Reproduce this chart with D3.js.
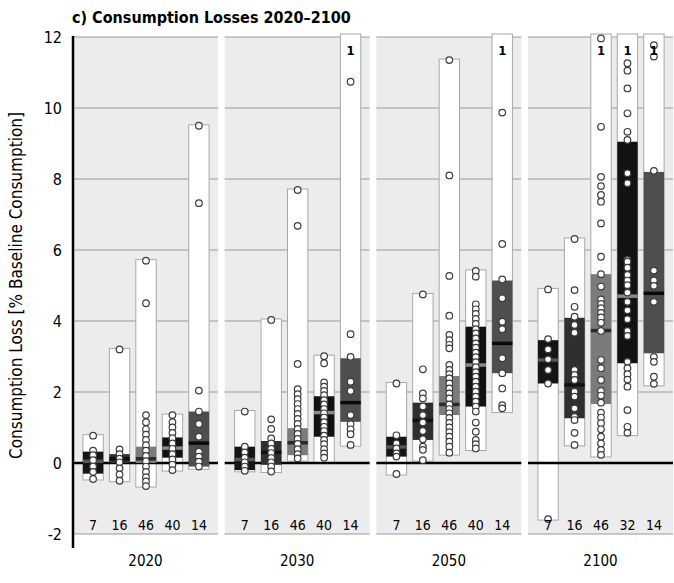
<!DOCTYPE html>
<html>
<head>
<meta charset="utf-8">
<script src="https://cdnjs.cloudflare.com/ajax/libs/d3/7.8.5/d3.min.js"></script>
<style>
    body { margin: 0; background: #fff; }
    svg { display: block; font-family: "Liberation Sans Narrow", "DejaVu Sans Condensed", "Open Sans", sans-serif; }
</style>
</head>
<body>
<svg id="chart" width="674" height="583"></svg>
<script>
// years and number of models per category
var years = ["2020", "2030", "2050", "2100"];
var counts = [
    [7, 16, 46, 40, 14],
    [7, 16, 46, 40, 14],
    [7, 16, 46, 40, 14],
    [7, 16, 46, 32, 14]
];
var yTicks = [-2, 0, 2, 4, 6, 8, 10, 12];

// box statistics, one row per year, one value per category
var mins = [
    [-0.45, -0.5, -0.65, -0.2, -0.15],
    [-0.22, -0.24, 0.08, 0.02, 0.5],
    [-0.31, 0.08, 0.25, 0.38, 1.45],
    [-1.58, 0.51, 0.2, 0.8, 2.2]
];
var q1s = [
    [-0.3, 0.0, 0.0, 0.15, -0.1],
    [-0.2, -0.05, 0.22, 0.74, 1.16],
    [0.18, 0.65, 1.35, 1.59, 2.53],
    [2.24, 1.26, 1.66, 2.81, 3.09]
];
var medians = [
    [0.05, 0.12, 0.12, 0.42, 0.56],
    [0.1, 0.3, 0.57, 1.42, 1.7],
    [0.45, 1.2, 1.65, 2.76, 3.37],
    [2.9, 2.2, 3.73, 4.7, 4.78]
];
var q3s = [
    [0.32, 0.25, 0.46, 0.72, 1.45],
    [0.46, 0.62, 0.98, 1.88, 2.95],
    [0.74, 1.7, 2.45, 3.84, 5.14],
    [3.46, 4.09, 5.32, 9.05, 8.2]
];
var maxs = [
    [0.77, 3.2, 5.7, 1.35, 9.5],
    [1.45, 4.03, 7.69, 3.01, 12],
    [2.24, 4.75, 11.35, 5.41, 12],
    [4.89, 6.31, 12, 12, 12]
];
// models beyond the top of the axis
var above = [
    [0, 0, 0, 0, 0],
    [0, 0, 0, 0, 1],
    [0, 0, 0, 0, 1],
    [0, 0, 1, 1, 1]
];
// single model results
var points = [
    [
        [0.77, 0.35, 0.22, 0.08, -0.1, -0.25, -0.45],
        [3.2, 0.38, 0.25, 0.12, 0.02, -0.15, -0.32, -0.5],
        [5.7, 4.5, 1.35, 1.15, 0.95, 0.8, 0.65, 0.5, 0.35, 0.2, 0.05, -0.1, -0.25, -0.4, -0.52, -0.65],
        [1.35, 1.15, 1.0, 0.85, 0.7, 0.55, 0.4, 0.25, 0.1, -0.05, -0.2],
        [9.5, 7.32, 2.04, 1.45, 1.1, 0.74, 0.32, 0.18, 0.04, -0.1]
    ],
    [
        [1.45, 0.46, 0.3, 0.15, 0.02, -0.1, -0.22],
        [4.03, 1.23, 0.96, 0.69, 0.55, 0.4, 0.28, 0.14, 0.02, -0.1, -0.24],
        [7.69, 6.68, 2.79, 2.08, 1.94, 1.8, 1.66, 1.52, 1.38, 1.24, 1.1, 0.96, 0.82, 0.68, 0.54, 0.39, 0.25, 0.13],
        [3.01, 2.81, 2.27, 2.15, 2.03, 1.91, 1.77, 1.65, 1.52, 1.4, 1.28, 1.15, 1.02, 0.9, 0.77, 0.65, 0.53, 0.39, 0.27, 0.15],
        [10.74, 3.63, 2.99, 2.29, 2.03, 1.35, 1.09, 0.95, 0.81, 0.51]
    ],
    [
        [2.24, 0.78, 0.55, 0.41, 0.27, 0.18, -0.31],
        [4.75, 2.64, 1.96, 1.82, 1.59, 1.35, 1.14, 0.9, 0.67, 0.46, 0.37, 0.08],
        [11.35, 8.1, 5.27, 4.15, 3.61, 3.46, 3.33, 3.23, 2.76, 2.62, 2.5, 2.38, 2.24, 2.1, 1.96, 1.82, 1.65, 1.52, 1.4, 1.27, 1.13, 1.0, 0.87, 0.74, 0.6, 0.46, 0.29],
        [5.41, 5.25, 4.47, 4.33, 4.2, 4.06, 3.92, 3.77, 3.65, 3.51, 3.37, 3.25, 3.11, 2.98, 2.84, 2.7, 2.56, 2.43, 2.29, 2.15, 2.01, 1.87, 1.73, 1.59, 1.45, 1.14, 0.88, 0.65, 0.53, 0.41],
        [9.87, 6.17, 5.17, 4.64, 3.98, 3.77, 2.95, 2.53, 2.1, 1.63, 1.54]
    ],
    [
        [4.89, 3.49, 3.2, 2.92, 2.62, 2.24, -1.58],
        [6.31, 4.87, 4.4, 4.12, 3.89, 3.67, 2.62, 2.48, 2.34, 2.01, 1.87, 1.54, 1.3, 1.21, 0.85, 0.51],
        [11.96, 9.47, 8.06, 7.8, 7.55, 7.36, 6.75, 5.81, 5.32, 4.97, 4.61, 4.48, 4.36, 4.23, 4.1, 3.95, 3.72, 2.9, 2.67, 2.34, 2.03, 1.9, 1.7, 1.42, 1.28, 1.12, 0.95, 0.74, 0.55, 0.37, 0.23],
        [11.26, 11.05, 10.55, 9.85, 9.33, 9.1, 8.16, 7.88, 5.72, 5.67, 5.5, 5.3, 5.14, 5.01, 4.8, 4.54, 4.3, 4.05, 3.72, 3.58, 2.85, 2.67, 2.5, 2.35, 2.15, 1.49, 1.02, 0.85],
        [11.77, 11.45, 8.23, 5.42, 5.14, 4.99, 4.54, 2.99, 2.85, 2.43, 2.23]
    ]
];

// colours of the interquartile boxes and their median bars
var boxColours = ["#151515", "#2f2f2f", "#7b7b7b", "#121212", "#4e4e4e"];
var medianColours = ["#555", "#111", "#2a2a2a", "#8a8a8a", "#0a0a0a"];

var svg = d3.select("#chart");

var y = d3.scaleLinear().domain([-2, 12]).range([534, 37]);
var x = d3.scaleBand().domain(years).range([73, 673]).paddingInner(0.044);
var xc = d3.scaleBand().domain(d3.range(5)).range([7, 139]).paddingInner(0.23).paddingOuter(0.11);

// build a flat table for the boxes
var boxes = [];
years.forEach(function(yr, i) {
    for (var c = 0; c < 5; c++) {
        boxes.push({
            year: yr, cat: c, n: counts[i][c],
            min: mins[i][c], q1: q1s[i][c], med: medians[i][c], q3: q3s[i][c], max: maxs[i][c],
            above: above[i][c], pts: points[i][c]
        });
    }
});
function bx(d) { return x(d.year) + xc(d.cat); }
function boxTop(d) { return d.above ? y(12) - 3 : y(d.max) - 1; }

// panel backgrounds
svg.append("g").selectAll("rect")
    .data(years)
    .join("rect")
    .attr("x", d => x(d))
    .attr("width", x.bandwidth())
    .attr("y", y(12))
    .attr("height", y(-2) - y(12))
    .attr("fill", "#ececec");

// gridlines per panel
var grid = svg.append("g");
years.forEach(function(yr) {
    grid.selectAll(null)
        .data(yTicks.filter(t => t != 0))
        .join("line")
        .attr("x1", x(yr))
        .attr("x2", x(yr) + x.bandwidth())
        .attr("y1", d => y(d))
        .attr("y2", d => y(d))
        .attr("stroke", "#9a9a9a")
        .attr("stroke-width", 1);
});

// full range (white) boxes
svg.append("g").selectAll("rect")
    .data(boxes)
    .join("rect")
    .attr("x", d => bx(d))
    .attr("width", xc.bandwidth())
    .attr("y", d => boxTop(d))
    .attr("height", d => y(d.min) - boxTop(d) + 1)
    .attr("fill", "#fff")
    .attr("stroke", "#a8a8a8")
    .attr("stroke-width", 1);

// zero line
svg.append("g").selectAll("line")
    .data(years)
    .join("line")
    .attr("x1", d => x(d))
    .attr("x2", d => x(d) + x.bandwidth())
    .attr("y1", y(0))
    .attr("y2", y(0))
    .attr("stroke", "#000")
    .attr("stroke-width", 2.5);

// interquartile boxes
svg.append("g").selectAll("rect")
    .data(boxes)
    .join("rect")
    .attr("x", d => bx(d))
    .attr("width", xc.bandwidth())
    .attr("y", d => y(d.q3))
    .attr("height", d => y(d.q1) - y(d.q3))
    .attr("fill", d => boxColours[d.cat]);

// medians
svg.append("g").selectAll("line")
    .data(boxes)
    .join("line")
    .attr("x1", d => bx(d))
    .attr("x2", d => bx(d) + xc.bandwidth())
    .attr("y1", d => y(d.med))
    .attr("y2", d => y(d.med))
    .attr("stroke", d => medianColours[d.cat])
    .attr("stroke-width", 3.5);

// single model circles
var pts = [];
boxes.forEach(function(b) {
    b.pts.forEach(function(v) { pts.push({ b: b, v: v }); });
});
svg.append("g").selectAll("circle")
    .data(pts)
    .join("circle")
    .attr("cx", d => bx(d.b) + xc.bandwidth() / 2)
    .attr("cy", d => y(d.v))
    .attr("r", 3.3)
    .attr("fill", "#fff")
    .attr("stroke", "#3c3c3c")
    .attr("stroke-width", 1.2);

// count of models off the top
svg.append("g").selectAll("text")
    .data(boxes.filter(d => d.above))
    .join("text")
    .attr("x", d => bx(d) + xc.bandwidth() / 2)
    .attr("y", y(12) + 18)
    .attr("text-anchor", "middle")
    .attr("font-size", 13)
    .attr("font-weight", "bold")
    .text(d => d.above);

// counts at the bottom
svg.append("g").selectAll("text")
    .data(boxes)
    .join("text")
    .attr("x", d => bx(d) + xc.bandwidth() / 2)
    .attr("y", y(-2) - 4)
    .attr("text-anchor", "middle")
    .attr("font-size", 14)
    .text(d => d.n);

// year labels
svg.append("g").selectAll("text")
    .data(years)
    .join("text")
    .attr("x", d => x(d) + x.bandwidth() / 2)
    .attr("y", 566)
    .attr("text-anchor", "middle")
    .attr("font-size", 15)
    .text(d => d);

// y axis
svg.append("line")
    .attr("x1", 73).attr("x2", 73)
    .attr("y1", y(12) - 1).attr("y2", 548)
    .attr("stroke", "#000")
    .attr("stroke-width", 2.5);

svg.append("g").selectAll("text")
    .data(yTicks)
    .join("text")
    .attr("x", 62)
    .attr("y", d => y(d))
    .attr("dy", "0.35em")
    .attr("text-anchor", "end")
    .attr("font-size", 16)
    .text(d => d);

svg.append("text")
    .attr("transform", "translate(22," + (y(5)) + ") rotate(-90)")
    .attr("text-anchor", "middle")
    .attr("font-size", 17)
    .text("Consumption Loss [% Baseline Consumption]");

// title
svg.append("text")
    .attr("x", 72)
    .attr("y", 23)
    .attr("font-size", 16)
    .attr("font-weight", "600")
    .text("c) Consumption Losses 2020\u20132100");
</script>
</body>
</html>
